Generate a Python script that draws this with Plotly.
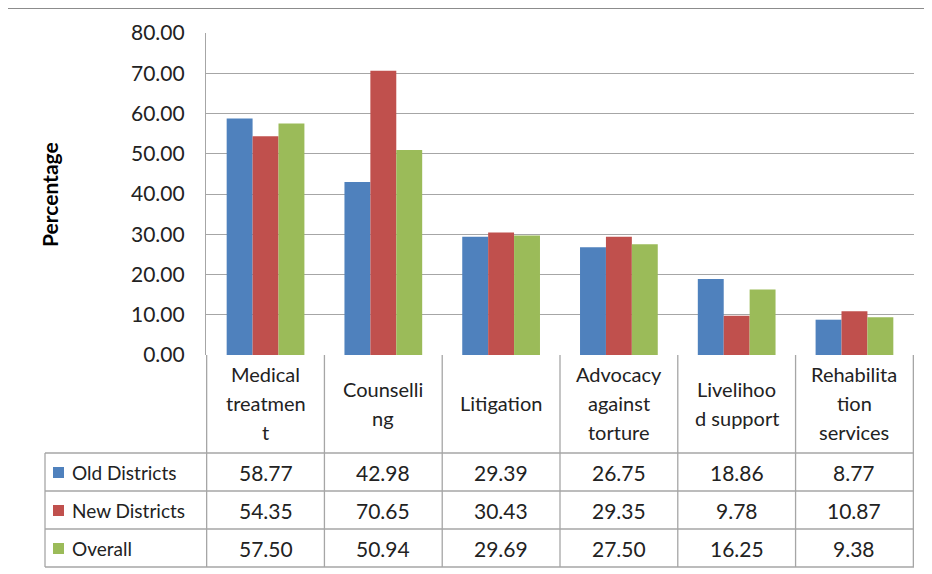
import plotly.graph_objects as go

W, H = 932, 574
OFF = 8  # page body margin of the written html

categories = ["Medical treatment", "Counselling", "Litigation",
              "Advocacy against torture", "Livelihood support", "Rehabilitation services"]
# wrapped the way the original table header breaks them
category_lines = [["Medical", "treatmen", "t"], ["Counselli", "ng"], ["Litigation"],
                  ["Advocacy", "against", "torture"], ["Livelihoo", "d support"],
                  ["Rehabilita", "tion", "services"]]

series_names = ["Old Districts", "New Districts", "Overall"]
old_districts = [58.77, 42.98, 29.39, 26.75, 18.86, 8.77]
new_districts = [54.35, 70.65, 30.43, 29.35, 9.78, 10.87]
overall = [57.50, 50.94, 29.69, 27.50, 16.25, 9.38]
series_values = [old_districts, new_districts, overall]
colors = ["#4F81BD", "#C0504D", "#9BBB59"]

FONT = "Lato"
GRID = "#a6a6a6"
TXT = "#222"


def px(x):
    return (x - OFF) / W


def py(y):
    return 1 - (y - OFF) / H


# pixel layout of the excel-style chart (screen coords)
PLOT_L, PLOT_R, PLOT_T, PLOT_B = 206, 914, 33, 355
TABLE_L = 45
ROW_LINES = [453, 491, 529, 567]
HEAD_MID, LINE_STEP = 403, 29

fig = go.Figure()
for name, vals, col in zip(series_names, series_values, colors):
    fig.add_trace(go.Bar(x=categories, y=vals, name=name, marker_color=col,
                         marker_line_width=0, showlegend=False))

shapes = []
line = dict(color=GRID, width=1.3)
# frame of the chart object
shapes.append(dict(type="line", xref="paper", yref="paper", x0=px(6), x1=px(W + 8),
                   y0=py(8), y1=py(8), line=dict(color="#8c8c8c", width=2)))
shapes.append(dict(type="line", xref="paper", yref="paper", x0=px(6), x1=px(6),
                   y0=py(8), y1=py(574), line=dict(color="#8c8c8c", width=2)))
# data table grid
for yy in ROW_LINES:
    shapes.append(dict(type="line", xref="paper", yref="paper", x0=px(TABLE_L), x1=px(PLOT_R),
                       y0=py(yy), y1=py(yy), line=line))
shapes.append(dict(type="line", xref="paper", yref="paper", x0=px(TABLE_L), x1=px(TABLE_L),
                   y0=py(ROW_LINES[0]), y1=py(ROW_LINES[-1]), line=line))
for i in range(len(categories) + 1):
    shapes.append(dict(type="line", xref="x", yref="paper", x0=i - 0.5, x1=i - 0.5,
                       y0=py(PLOT_B), y1=py(ROW_LINES[-1]), line=line))

annotations = []
for i, lines in enumerate(category_lines):
    n = len(lines)
    for k, txt in enumerate(lines):
        yy = HEAD_MID + (k - (n - 1) / 2) * LINE_STEP
        annotations.append(dict(x=categories[i], y=py(yy), xref="x", yref="paper", text=txt,
                                showarrow=False, xanchor="center", yanchor="middle",
                                font=dict(family=FONT, size=20, color=TXT)))
for r, (name, vals, col) in enumerate(zip(series_names, series_values, colors)):
    yc = (ROW_LINES[r] + ROW_LINES[r + 1]) / 2
    shapes.append(dict(type="rect", xref="paper", yref="paper", x0=px(53), x1=px(64),
                       y0=py(yc + 6), y1=py(yc - 5), fillcolor=col, line_width=0))
    annotations.append(dict(x=px(70), y=py(yc), xref="paper", yref="paper", text=name,
                            showarrow=False, xanchor="left", yanchor="middle",
                            font=dict(family=FONT, size=19, color=TXT)))
    for i, v in enumerate(vals):
        annotations.append(dict(x=categories[i], y=py(yc), xref="x", yref="paper",
                                text=f"{v:.2f}", showarrow=False, xanchor="center",
                                yanchor="middle", font=dict(family=FONT, size=21, color=TXT)))
annotations.append(dict(x=px(49), y=py(195), xref="paper", yref="paper", text="<b>Percentage</b>",
                        textangle=-90, showarrow=False, xanchor="center", yanchor="middle",
                        font=dict(family=FONT, size=21, color="#000")))

fig.update_layout(
    width=W, height=H,
    margin=dict(l=0, r=0, t=0, b=0),
    paper_bgcolor="white", plot_bgcolor="white",
    barmode="group", bargap=0.34, bargroupgap=0,
    xaxis=dict(domain=[px(PLOT_L), px(PLOT_R)], showticklabels=False, showgrid=False,
               showline=False, zeroline=False, automargin=False),
    yaxis=dict(domain=[py(PLOT_B), py(PLOT_T)], range=[0, 80], dtick=10, tickformat=".2f",
               showgrid=True, gridcolor=GRID, gridwidth=1.3, zeroline=False,
               showline=True, linecolor=GRID, linewidth=1.3, ticks="",
               ticklabelstandoff=16, automargin=False,
               tickfont=dict(family=FONT, size=21, color=TXT)),
    shapes=shapes, annotations=annotations,
)

fig.write_html("out.html")
